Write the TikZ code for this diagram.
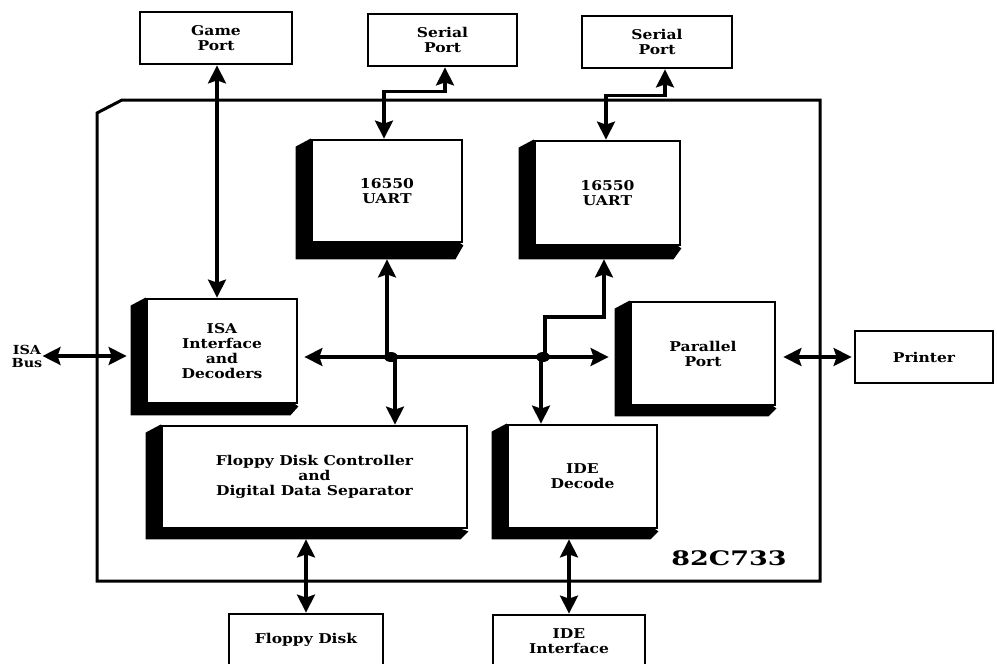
\documentclass[tikz,border=0pt]{standalone}
\usepackage{fontspec}
\newfontfamily\lblfont{DejaVu Serif}[FakeStretch=1.15]
\newfontfamily\partfont{DejaVu Serif}[FakeStretch=1.35]
\usetikzlibrary{arrows.meta,backgrounds}

% black extrusion drawn behind a block: left depth 15pt, bottom depth #2
\newcommand\dropshade[2]{%
  \fill (#1.north west) -- ([xshift=-15pt,yshift=-8pt]#1.north west)
    -- ([xshift=-15pt,yshift=-#2pt]#1.south west)
    -- ([xshift=-8pt,yshift=-#2pt]#1.south east)
    -- ([yshift=-2pt]#1.south east) -- cycle;}

\tikzset{
  lbl/.style={font=\lblfont\bfseries\fontsize{13.5}{15}\selectfont, align=center, inner sep=0pt},
  blk/.style={lbl, draw, line width=2.8pt, fill=white},
  tip/.tip={Stealth[length=18pt,width=18pt,inset=3pt]},
  link/.style={line width=3.2pt, -tip},
  biarrow/.style={line width=3.2pt, tip-tip},
}

\begin{document}
\begin{tikzpicture}[x=1pt,y=-1pt]
\useasboundingbox (0,0) rectangle (997,664);
\clip (0,0) rectangle (997,664);

% chip outline
\draw[line width=3pt, line join=miter] (122,100) -- (820,100) -- (820,581) -- (97,581) -- (97,113) -- cycle;
\node[font=\partfont\bfseries\fontsize{20}{22}\selectfont, inner sep=0pt] (chip) at (729,558) {82C733};

% external devices
\node[blk, minimum width=152pt, minimum height=52pt] (game) at (216,38) {Game\\Port};
\node[blk, minimum width=149pt, minimum height=52pt] (ser1) at (442.5,40) {Serial\\Port};
\node[blk, minimum width=150pt, minimum height=52pt] (ser2) at (657,42) {Serial\\Port};
\node[blk, minimum width=138pt, minimum height=52pt] (printer) at (924,357) {Printer};
\node[blk, minimum width=154pt, minimum height=52pt] (fdisk) at (306,640) {Floppy Disk};
\node[blk, minimum width=152pt, minimum height=52pt] (ideif) at (569,641) {IDE\\Interface};
\node[lbl, font=\lblfont\bfseries\fontsize{12.5}{13}\selectfont] (isabus) at (27,356) {ISA\\Bus};

% on-chip blocks
\node[blk, minimum width=150pt, minimum height=102pt] (uart1) at (387,191) {16550\\UART};
\node[blk, minimum width=145pt, minimum height=104pt] (uart2) at (607.5,193) {16550\\UART};
\node[blk, minimum width=150pt, minimum height=104pt] (isa) at (222,351) {ISA\\Interface\\and\\Decoders};
\node[blk, minimum width=144pt, minimum height=103pt] (par) at (703,353.5) {Parallel\\Port};
\node[blk, minimum width=305pt, minimum height=102pt] (fdc) at (314.5,477) {Floppy Disk Controller\\and\\Digital Data Separator};
\node[blk, minimum width=149pt, minimum height=103pt] (ide) at (582.5,476.5) {IDE\\Decode};

\begin{scope}[on background layer]
  \dropshade{uart1}{16}
  \dropshade{uart2}{13}
  \dropshade{isa}{11}
  \dropshade{par}{10}
  \dropshade{fdc}{10}
  \dropshade{ide}{10}
\end{scope}

% internal bus junctions
\coordinate (dot1) at (391,357);
\coordinate (dot2) at (543,357);
\fill (dot1) ellipse [x radius=7, y radius=5];
\fill (dot2) ellipse [x radius=7, y radius=5];

% internal bus
\draw[biarrow, shorten <=6pt, shorten >=21pt] (isa.east |- dot1) -- (par.west |- dot1);
\draw[link, shorten >=16pt] ([xshift=-4pt]dot1) -- ([xshift=-4pt]dot1 |- uart1.south);
\draw[link] ([xshift=4pt]dot1) -- ([xshift=4pt]dot1 |- fdc.north);
\draw[link, shorten >=13pt] ([xshift=2pt]dot2) -- ++(0,-40) -| ([xshift=-3.5pt]uart2.south);
\draw[link] ([xshift=-2pt]dot2) -- ([xshift=-2pt]dot2 |- ide.north);

% connections to the outside
\draw[biarrow] ([xshift=1pt]game.south) -- ([xshift=1pt]game.south |- isa.north);
\draw[biarrow] ([xshift=2.5pt]ser1.south) -- ++(0,24) -| ([xshift=-3pt]uart1.north);
\draw[biarrow] ([xshift=8pt]ser2.south) -- ++(0,26) -| ([xshift=-1.5pt]uart2.north);
\draw[biarrow, shorten >=19pt] (isabus.east) -- (isa.west |- isabus.east);
\draw[biarrow, shorten <=7pt, shorten >=2pt] (par.east |- printer.west) -- (printer.west);
\draw[biarrow, shorten <=10pt] (fdisk.north |- fdc.south) -- (fdisk.north);
\draw[biarrow, shorten <=10pt] (ideif.north |- ide.south) -- (ideif.north);
\end{tikzpicture}
\end{document}
